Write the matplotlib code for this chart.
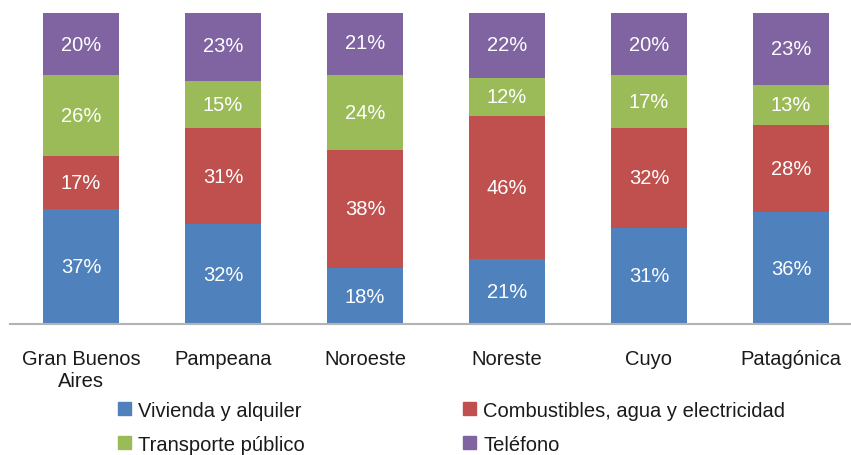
import numpy as np
import matplotlib.pyplot as plt
from matplotlib.patches import Patch

plt.rcParams['font.family'] = ['Liberation Sans', 'DejaVu Sans']

# Regions and share of each expense item (%)
regions = ['Gran Buenos\nAires', 'Pampeana', 'Noroeste', 'Noreste', 'Cuyo', 'Patagónica']
vivienda = [37, 32, 18, 21, 31, 36]
combustibles = [17, 31, 38, 46, 32, 28]
transporte = [26, 15, 24, 12, 17, 13]
telefono = [20, 23, 21, 22, 20, 23]

series = [
    ('Vivienda y alquiler', vivienda, '#4F81BD'),
    ('Combustibles, agua y electricidad', combustibles, '#C0504D'),
    ('Transporte público', transporte, '#9BBB59'),
    ('Teléfono', telefono, '#8064A2'),
]

fig = plt.figure(figsize=(8.51, 4.56), dpi=100)
ax = fig.add_axes([10 / 851, 131 / 456, 841 / 851, 311 / 456])

x = np.arange(len(regions))
bottom = np.zeros(len(regions))
handles = {}
for name, vals, col in series:
    vals = np.array(vals, dtype=float)
    ax.bar(x, vals, bottom=bottom, width=0.535, color=col, label=name)
    for xi, b, v in zip(x, bottom, vals):
        ax.text(xi, b + v / 2, f'{int(v)}%', ha='center', va='center',
                color='white', fontsize=14.5)
    bottom += vals
    handles[name] = Patch(color=col)

ax.set_xlim(-0.5, -0.5 + 841 / 142)
ax.set_ylim(0, 100)
ax.set_yticks([])
ax.set_xticks(x)
ax.set_xticklabels(regions, fontsize=14.5, color='#1a1a1a', linespacing=1.2)
ax.tick_params(axis='x', length=0, pad=18)
for s in ['top', 'right', 'left']:
    ax.spines[s].set_visible(False)
ax.spines['bottom'].set_color('#b3b3b3')
ax.spines['bottom'].set_linewidth(1.5)

order = ['Vivienda y alquiler', 'Transporte público',
         'Combustibles, agua y electricidad', 'Teléfono']
fig.legend([handles[n] for n in order], order, ncol=2, frameon=False,
           fontsize=14.5, loc='lower left', bbox_to_anchor=(100 / 851, -0.037),
           handlelength=0.65, handleheight=0.65, handletextpad=0.35,
           columnspacing=7.85, labelspacing=0.75, labelcolor='#1a1a1a')

fig.savefig('out.png', dpi=100)
